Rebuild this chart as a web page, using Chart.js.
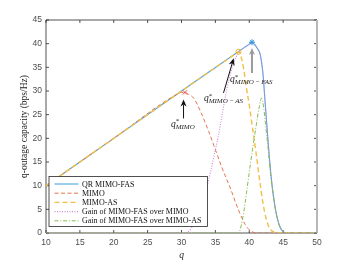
<!DOCTYPE html>
<html>
<head>
<meta charset="utf-8">
<script src="https://cdn.jsdelivr.net/npm/chart.js@4.4.0/dist/chart.umd.min.js"></script>
<style>body{margin:0;background:#fff}</style>
</head>
<body>
<canvas id="myChart" width="350" height="263"></canvas>
<script>
// values (q, q-outage capacity in bps/Hz)
var qFas = [10, 20, 30, 40.0, 40.4, 40.8, 41.2, 41.6, 42.0, 42.4, 42.8, 43.2, 43.6, 44.0, 44.4, 44.8, 45.2, 45.6, 50];
var capFas = [10, 20, 30, 39.9, 40.3, 39.8, 39.0, 37.8, 34.0, 26.5, 19.0, 12.3, 7.5, 4.0, 1.8, 0.6, 0.1, 0, 0];

var qMimo = [10, 20, 29.6, 30.0, 30.5, 31.0, 31.8, 32.8, 34.0, 35.0, 36.0, 37.2, 38.4, 39.4, 40.0, 40.6, 41.2, 50];
var capMimo = [10, 20, 29.5, 29.7, 29.7, 29.3, 28.5, 25.7, 21.5, 17.6, 13.7, 9.5, 4.9, 1.8, 0.7, 0.15, 0, 0];

var qAs = [10, 20, 30, 38.0, 38.4, 38.8, 39.2, 39.6, 40.0, 40.5, 41.0, 41.5, 42.0, 42.5, 43.0, 43.5, 44.0, 50];
var capAs = [10, 20, 30, 37.9, 38.3, 37.2, 34.5, 30.5, 27.0, 22.0, 17.0, 11.5, 6.5, 3.0, 1.0, 0.3, 0, 0];

var qGainMimo = [10, 30.5, 31.5, 32.5, 33.3, 34.3, 35.0, 35.5, 36.0, 36.5, 37.0, 37.5, 38.0, 38.5, 39.0, 39.5, 40.0, 40.4,
                 40.8, 41.2, 41.6, 42.0, 42.4, 42.8, 43.2, 43.6, 44.0, 44.4, 44.8, 45.2, 45.6, 50];
var capGainMimo = [0, 0, 1.1, 3.9, 7.4, 13.0, 17.6, 21.0, 25.0, 29.0, 32.3, 35.0, 37.0, 38.3, 38.9, 39.4, 39.8, 40.2,
                   39.8, 39.0, 37.8, 34.0, 26.5, 19.0, 12.3, 7.5, 4.0, 1.8, 0.6, 0.1, 0, 0];

var qGainAs = [10, 38.4, 38.8, 39.2, 39.6, 40.0, 40.5, 41.0, 41.5, 41.8, 42.1, 42.4, 42.8, 43.2, 43.6, 44.0, 44.4, 44.8, 45.2, 45.6, 50];
var capGainAs = [0, 0, 1.5, 4.5, 8.5, 12.8, 17.8, 22.5, 26.8, 28.5, 26.8, 23.0, 17.6, 11.7, 7.3, 4.0, 1.8, 0.6, 0.1, 0, 0];

// optimal q markers: MIMO (x), MIMO-AS (o), MIMO-FAS (*)
var peakQ = [30.5, 38.4, 40.4];
var peakCap = [29.7, 38.3, 40.3];

var seriesNames = ["QR MIMO-FAS", "MIMO", "MIMO-AS", "Gain of MIMO-FAS over MIMO", "Gain of MIMO-FAS over MIMO-AS"];
var seriesColors = ["#4da6e2", "#e3754f", "#f2bf45", "#cf86d8", "#88bb4e"];

var xTicks = [10, 15, 20, 25, 30, 35, 40, 45, 50];
var yTicks = [0, 5, 10, 15, 20, 25, 30, 35, 40, 45];

function pts(xs, ys) {
    return xs.map((x, i) => ({x: x, y: ys[i]}));
}

// arrows in data coords: tail, tip, label position (q baseline)
var notes = [
    {from: [30.3, 24.2], to: [30.3, 28.2], at: [30.2, 22.5], sub: "MIMO", color: "#111", w: 1},
    {from: [36.2, 29.6], to: [37.7, 36.9], at: [36.2, 27.8], sub: "MIMO\u2009\u2212\u2009AS", color: "#111", w: 1},
    {from: [40.4, 33.8], to: [40.4, 39.1], at: [40.3, 31.8], sub: "MIMO\u2009\u2212\u2009FAS", color: "#9a9a9a", w: 2}
];

function arrowHead(c, x1, y1, x2, y2, color, w) {
    var a = Math.atan2(y2 - y1, x2 - x1);
    var L = 7, H = 3;
    var bx = x2 - L * Math.cos(a), by = y2 - L * Math.sin(a);
    c.strokeStyle = color;
    c.lineWidth = w;
    c.beginPath();
    c.moveTo(x1, y1);
    c.lineTo(bx + 2 * Math.cos(a), by + 2 * Math.sin(a));
    c.stroke();
    c.fillStyle = color;
    c.beginPath();
    c.moveTo(x2, y2);
    c.lineTo(bx - H * Math.sin(a), by + H * Math.cos(a));
    c.lineTo(bx + 2 * Math.cos(a), by + 2 * Math.sin(a));
    c.lineTo(bx + H * Math.sin(a), by - H * Math.cos(a));
    c.closePath();
    c.fill();
}

var boxPlugin = {
    id: "box",
    beforeDatasetsDraw(chart) {
        var c = chart.ctx, a = chart.chartArea;
        var sx = chart.scales.x, sy = chart.scales.y;
        c.save();
        c.strokeStyle = "#262626";
        c.lineWidth = 0.8;
        c.beginPath();
        c.moveTo(a.left, a.bottom); c.lineTo(a.left, a.top); c.lineTo(a.right, a.top);
        c.moveTo(a.left, a.bottom); c.lineTo(a.right, a.bottom);
        xTicks.forEach(t => {
            var px = sx.getPixelForValue(t);
            c.moveTo(px, a.bottom); c.lineTo(px, a.bottom - 3);
            c.moveTo(px, a.top); c.lineTo(px, a.top + 3);
        });
        yTicks.forEach(t => {
            var py = sy.getPixelForValue(t);
            c.moveTo(a.left, py); c.lineTo(a.left + 3, py);
            c.moveTo(a.right, py); c.lineTo(a.right - 3, py);
        });
        c.stroke();
        c.strokeStyle = "#b8b8b8";
        c.lineWidth = 2;
        c.beginPath();
        c.moveTo(a.right, a.top); c.lineTo(a.right, a.bottom);
        c.stroke();
        c.restore();
    },
    afterDraw(chart) {
        var c = chart.ctx, a = chart.chartArea;
        var sx = chart.scales.x, sy = chart.scales.y;
        c.save();
        // annotations
        notes.forEach(n => {
            arrowHead(c, sx.getPixelForValue(n.from[0]), sy.getPixelForValue(n.from[1]),
                sx.getPixelForValue(n.to[0]), sy.getPixelForValue(n.to[1]), n.color, n.w);
            c.fillStyle = "#222";
            c.font = "italic 9.5px 'Liberation Serif'";
            var wq = c.measureText("q").width;
            c.font = "italic 7px 'Liberation Serif'";
            var ws = c.measureText(n.sub).width;
            var x0 = sx.getPixelForValue(n.at[0]) - (wq + ws) / 2;
            var yb = sy.getPixelForValue(n.at[1]);
            c.textBaseline = "alphabetic";
            c.textAlign = "left";
            c.font = "italic 9.5px 'Liberation Serif'";
            c.fillText("q", x0, yb);
            c.font = "7px 'Liberation Serif'";
            c.fillText("*", x0 + wq, yb - 3.5);
            c.font = "italic 7px 'Liberation Serif'";
            c.fillText(n.sub, x0 + wq, yb + 2);
        });
        // legend
        var lx = a.left + 3, ly = a.bottom - 56.5, lw = 158.5, lh = 50;
        c.fillStyle = "#fff";
        c.fillRect(lx, ly, lw, lh);
        c.strokeStyle = "#262626";
        c.lineWidth = 0.8;
        c.strokeRect(lx, ly, lw, lh);
        c.font = "8px 'Liberation Serif'";
        c.textBaseline = "middle";
        c.textAlign = "left";
        seriesNames.forEach((name, i) => {
            var ds = chart.data.datasets[i];
            var yy = ly + 7.5 + i * 9.2;
            c.strokeStyle = ds.borderColor;
            c.lineWidth = ds.borderWidth;
            c.setLineDash(ds.borderDash || []);
            c.beginPath();
            c.moveTo(lx + 5.5, yy); c.lineTo(lx + 29.5, yy);
            c.stroke();
            c.setLineDash([]);
            c.fillStyle = "#111";
            c.fillText(name, lx + 33, yy + 0.5);
        });
        c.restore();
    }
};

new Chart("myChart", {
    type: "line",
    data: {
        datasets: [
            {data: pts(qFas, capFas), borderColor: seriesColors[0], borderWidth: 1.1, order: 6},
            {data: pts(qMimo, capMimo), borderColor: seriesColors[1], borderWidth: 1, borderDash: [4, 2.5], order: 5},
            {data: pts(qAs, capAs), borderColor: seriesColors[2], borderWidth: 1.4, borderDash: [5, 3], order: 4},
            {data: pts(qGainMimo, capGainMimo), borderColor: seriesColors[3], borderWidth: 1.1, borderDash: [1, 1.5], order: 3},
            {data: pts(qGainAs, capGainAs), borderColor: seriesColors[4], borderWidth: 1, borderDash: [4, 1.8, 1, 1.8], order: 2},
            {data: [{x: peakQ[0], y: peakCap[0]}], showLine: false, pointStyle: "crossRot", pointRadius: 3,
             pointBorderColor: "#e8453c", pointBorderWidth: 1, order: 1},
            {data: [{x: peakQ[1], y: peakCap[1]}], showLine: false, pointStyle: "circle", pointRadius: 2.5,
             pointBorderColor: "#efb52f", pointBackgroundColor: "rgba(0,0,0,0)", pointBorderWidth: 1, order: 1},
            {data: [{x: peakQ[2], y: peakCap[2]}], showLine: false, pointStyle: "star", pointRadius: 3,
             pointBorderColor: "#2f8fd8", pointBorderWidth: 1, order: 1}
        ]
    },
    options: {
        responsive: false,
        animation: false,
        events: [],
        layout: {padding: {top: 20, right: 33, left: 0, bottom: 0}},
        elements: {
            point: {radius: 0},
            line: {cubicInterpolationMode: "monotone", fill: false}
        },
        plugins: {legend: {display: false}, tooltip: {enabled: false}},
        scales: {
            x: {
                type: "linear", min: 10, max: 50,
                afterFit: s => { s.height = 30; },
                afterBuildTicks: s => { s.ticks = xTicks.map(v => ({value: v})); },
                grid: {display: false, drawTicks: false},
                border: {display: false},
                ticks: {padding: 5, color: "#4d4d4d", font: {family: "'Liberation Sans'", size: 8.5}, maxRotation: 0},
                title: {display: true, text: "q", color: "#222", padding: {top: 0, bottom: 2},
                        font: {family: "'Liberation Serif'", size: 9.5, style: "italic"}}
            },
            y: {
                min: 0, max: 45,
                afterFit: s => { s.width = 46; },
                afterBuildTicks: s => { s.ticks = yTicks.map(v => ({value: v})); },
                grid: {display: false, drawTicks: false},
                border: {display: false},
                ticks: {padding: 4, color: "#4d4d4d", font: {family: "'Liberation Sans'", size: 8.5}},
                title: {display: true, text: "q-outage capacity (bps/Hz)", color: "#222", padding: {top: 19, bottom: 0},
                        font: {family: "'Liberation Serif'", size: 9.5}}
            }
        }
    },
    plugins: [boxPlugin]
});
</script>
</body>
</html>
